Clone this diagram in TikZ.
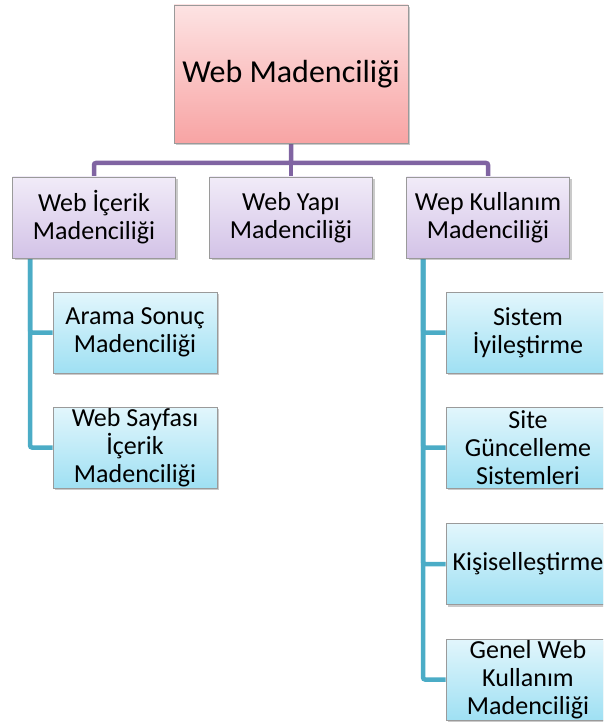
\documentclass[tikz,border=0pt]{standalone}
\usepackage{fontspec}
\setmainfont{Carlito}
\usetikzlibrary{shadows,backgrounds}
\definecolor{rootTop}{HTML}{FDE3E3}
\definecolor{rootBot}{HTML}{F8A4A4}
\definecolor{lvTop}{HTML}{F1EBF8}
\definecolor{lvBot}{HTML}{D3C3E7}
\definecolor{cyTop}{HTML}{E2F6FC}
\definecolor{cyBot}{HTML}{9FE0F3}
\definecolor{boxEdge}{HTML}{9A9A9A}
\definecolor{purpleLine}{HTML}{8064A2}
\definecolor{cyanLine}{HTML}{4BACC6}
\tikzset{
  basebox/.style={draw=boxEdge, line width=0.8pt, rectangle, align=center, inner sep=0pt,
    drop shadow={shadow xshift=2pt, shadow yshift=-2pt, opacity=0.35, fill=black!60}},
  rootbox/.style={basebox, top color=rootTop, bottom color=rootBot,
    minimum width=234pt, minimum height=138pt, font=\fontsize{32}{38}\selectfont},
  lvbox/.style={basebox, top color=lvTop, bottom color=lvBot,
    minimum width=163pt, minimum height=81pt, font=\fontsize{26}{28}\selectfont},
  leafbox/.style={basebox, top color=cyTop, bottom color=cyBot,
    minimum width=164pt, minimum height=81pt, font=\fontsize{26}{28}\selectfont},
  pline/.style={draw=purpleLine, line width=4.5pt, rounded corners=2pt},
  cline/.style={draw=cyanLine, line width=4.5pt, rounded corners=2pt},
}
\begin{document}
\begin{tikzpicture}[x=1pt, y=-1pt]
  \useasboundingbox (0,0) rectangle (603,727);
  \clip (0,0) rectangle (603,727);

  \coordinate (bus) at (0,163);

  % top level
  \node[rootbox] (root) at (291,74) {Web Madenciliği};

  % second level
  \node[lvbox] (c1) at (94,217.5) {Web İçerik\\Madenciliği};
  \node[lvbox] (c2) at (291,217.5) {Web Yapı\\Madenciliği};
  \node[lvbox] (c3) at (488,217.5) {Wep Kullanım\\Madenciliği};

  % leaves under the content branch
  \node[leafbox] (a1) at (135,332.5) {Arama Sonuç\\Madenciliği};
  \node[leafbox] (a2) at (135,447.5) {Web Sayfası\\İçerik\\Madenciliği};

  % leaves under the usage branch
  \node[leafbox] (b1) at (528,332.5) {Sistem\\İyileştirme};
  \node[leafbox] (b2) at (528,447.5) {Site\\Güncelleme\\Sistemleri};
  \node[leafbox] (b3) at (528,564) {Kişiselleştirme};
  \node[leafbox] (b4) at (528,679.5) {Genel Web\\Kullanım\\Madenciliği};

  \begin{scope}[on background layer]
    % purple bus from the root to the second level
    \draw[pline] (root.south) -- (root.south |- bus) -| (c1.north);
    \draw[pline] (root.south |- bus) -| (c3.north);
    \draw[pline] (root.south |- bus) -- (c2.north);

    % cyan trunks down the left side of the branches
    \coordinate (t1) at ([xshift=18pt]c1.south west);
    \coordinate (t3) at ([xshift=17pt]c3.south west);
    \draw[cline] (t1) |- (a1.west);
    \draw[cline] (t1) |- (a2.west);
    \draw[cline] (t3) |- (b1.west);
    \draw[cline] (t3) |- (b2.west);
    \draw[cline] (t3) |- (b3.west);
    \draw[cline] (t3) |- (b4.west);
  \end{scope}
\end{tikzpicture}
\end{document}
